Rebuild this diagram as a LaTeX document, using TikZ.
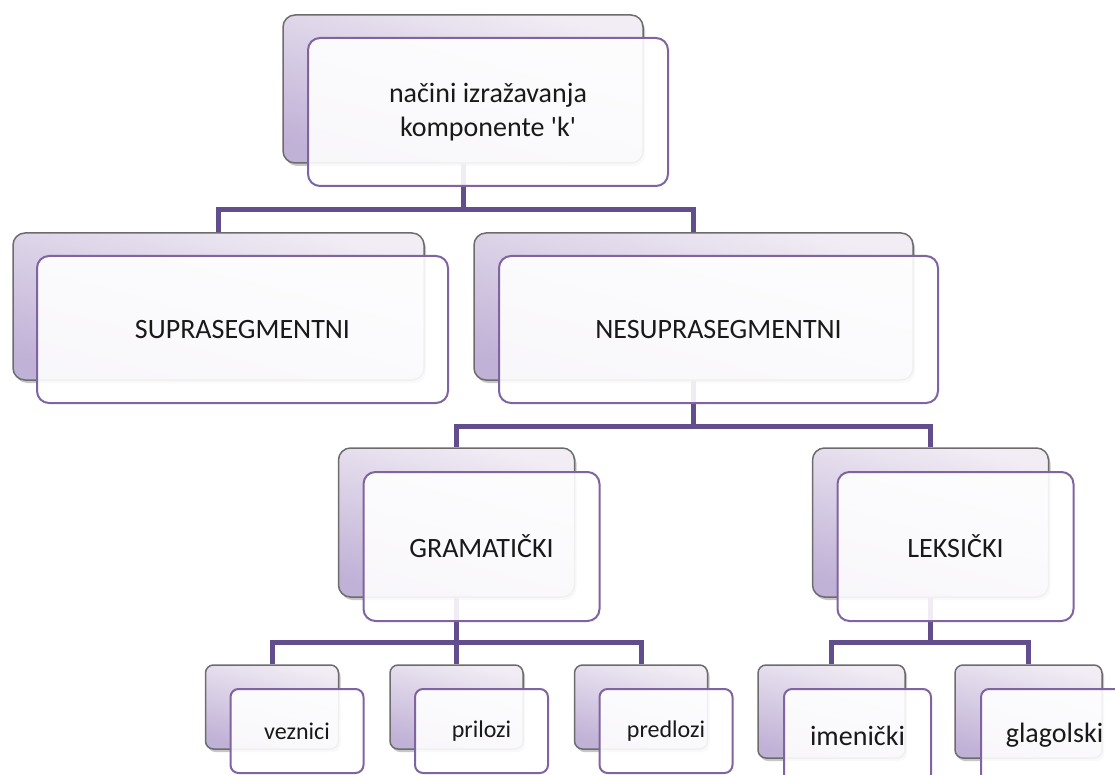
\documentclass[tikz,border=0pt]{standalone}
\usepackage{fontspec}
\setmainfont{Carlito}[Ligatures=TeXOff]
\usepackage{tikz}
\usetikzlibrary{shadows, positioning, calc}
\definecolor{linkpurple}{RGB}{98,78,140}
\definecolor{framepurple}{RGB}{128,100,162}
\definecolor{boxtop}{RGB}{242,237,245}
\definecolor{boxbot}{RGB}{192,177,214}

\begin{document}
\begin{tikzpicture}[x=1pt, y=-1pt, style={line join=miter},
  backbox/.style={draw=gray!85!black, line width=1.5pt, rounded corners=12pt, inner sep=0pt,
    top color=boxtop, bottom color=boxbot, shading angle=-15,
    drop shadow={shadow xshift=2pt, shadow yshift=-3pt, opacity=0.45}},
  frontbox/.style={draw=framepurple, line width=2pt, rounded corners=12pt, inner sep=0pt,
    fill=white, fill opacity=0.9, text opacity=1, text=black!90,
    font=\fontsize{28}{34}\selectfont, align=center},
  smallback/.style={backbox, rounded corners=8pt},
  smallfront/.style={frontbox, rounded corners=8pt},
  link/.style={draw=linkpurple, line width=5pt}]
  \path[use as bounding box, clip] (0,0) rectangle (1115,775);

  % back boxes
  \node[backbox, minimum width=360, minimum height=148] (kompb) at (463,89) {};
  \node[backbox, minimum width=411, minimum height=147] (suprab) at (218.5,306.5) {};
  \node[backbox, minimum width=439, minimum height=147] (nesuprab) at (693.5,306.5) {};
  \node[backbox, minimum width=236, minimum height=149] (gramb) at (456.5,522.5) {};
  \node[backbox, minimum width=236, minimum height=149] (leksb) at (930.5,522.5) {};
  \node[smallback, minimum width=133, minimum height=84] (veznb) at (272,707) {};
  \node[smallback, minimum width=133, minimum height=84] (prilb) at (456.5,707) {};
  \node[smallback, minimum width=133, minimum height=84] (predb) at (641,707) {};
  \node[smallback, minimum width=147, minimum height=93] (imenb) at (831.5,711.5) {};
  \node[smallback, minimum width=147, minimum height=93] (glagb) at (1028.5,711.5) {};

  % connectors
  \draw[link] (kompb.south) -- ++(0,46) -| (suprab.north);
  \draw[link] (kompb.south) -- ++(0,46) -| (nesuprab.north);
  \draw[link] (nesuprab.south) -- ++(0,46) -| (gramb.north);
  \draw[link] (nesuprab.south) -- ++(0,46) -| (leksb.north);
  \draw[link] (gramb.south) -- ++(0,45) -| (veznb.north);
  \draw[link] (gramb.south) -- ++(0,45) -| (prilb.north);
  \draw[link] (gramb.south) -- ++(0,45) -| (predb.north);
  \draw[link] (leksb.south) -- ++(0,45) -| (imenb.north);
  \draw[link] (leksb.south) -- ++(0,45) -| (glagb.north);

  % front boxes
  \node[frontbox, minimum width=360, minimum height=148] (komp) at ([shift={(25,23)}]kompb.center) {načini izražavanja\\komponente 'k'};
  \node[frontbox, minimum width=411, minimum height=147] (supra) at ([shift={(24,23)}]suprab.center) {SUPRASEGMENTNI};
  \node[frontbox, minimum width=439, minimum height=147] (nesupra) at ([shift={(25,23)}]nesuprab.center) {NESUPRASEGMENTNI};
  \node[frontbox, minimum width=236, minimum height=149] (gram) at ([shift={(25,24)}]gramb.center) {GRAMATIČKI};
  \node[frontbox, minimum width=236, minimum height=149] (leks) at ([shift={(25,24)}]leksb.center) {LEKSIČKI};
  \node[smallfront, minimum width=133, minimum height=84, font=\fontsize{24}{29}\selectfont] (vezn) at ([shift={(25,24)}]veznb.center) {veznici};
  \node[smallfront, minimum width=133, minimum height=84, font=\fontsize{24}{29}\selectfont] (pril) at ([shift={(25,24)}]prilb.center) {prilozi};
  \node[smallfront, minimum width=133, minimum height=84, font=\fontsize{24}{29}\selectfont] (pred) at ([shift={(25,24)}]predb.center) {predlozi};
  \node[smallfront, minimum width=147, minimum height=93] (imen) at ([shift={(26,24)}]imenb.center) {imenički};
  \node[smallfront, minimum width=147, minimum height=93] (glag) at ([shift={(26,24)}]glagb.center) {glagolski};
\end{tikzpicture}
\end{document}
